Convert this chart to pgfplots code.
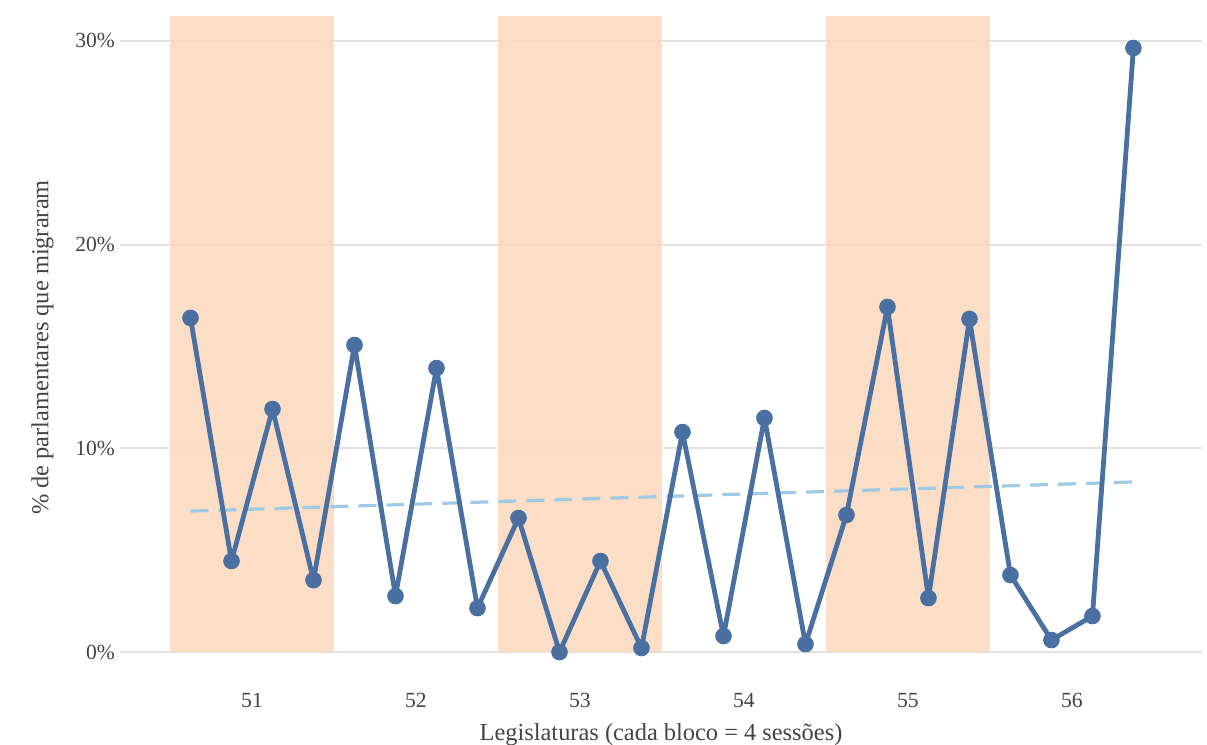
\documentclass[border=0pt]{standalone}
\usepackage{pgfplots}
\pgfplotsset{compat=1.18}
\usepackage{fontspec}
\setmainfont{Liberation Serif}
\definecolor{linecol}{RGB}{74,112,162}
\definecolor{trendcol}{RGB}{158,202,230}
\definecolor{bandcol}{RGB}{252,218,192}
\definecolor{gridcol}{RGB}{226,226,226}
\definecolor{txtcol}{RGB}{68,68,68}
\begin{document}
\begin{tikzpicture}
\useasboundingbox (-60pt,-32.5pt) rectangle (543.5pt,340pt);
\begin{axis}[
  scale only axis,
  width=541pt, height=332.5pt,
  xmin=50.195, xmax=56.793,
  ymin=-1.37, ymax=31.27,
  axis line style={draw=none},
  tick style={draw=none},
  xtick={51,52,53,54,55,56},
  ytick={0,10,20,30},
  yticklabel={\pgfmathprintnumber{\tick}\%},
  /pgf/number format/assume math mode=true,
  ymajorgrids,
  grid style={gridcol, line width=1pt},
  ticklabel style={font=\fontsize{10.8}{12}\selectfont, text=txtcol},
  xticklabel style={yshift=-3pt},
  yticklabel style={xshift=1pt},
  xlabel={Legislaturas (cada bloco = 4 sessões)},
  ylabel={\% de parlamentares que migraram},
  label style={font=\fontsize{12.2}{14}\selectfont, text=txtcol},
  xlabel style={yshift=-1pt},
  ylabel style={yshift=4pt},
  clip=false,
]
\addplot[draw=none, fill=bandcol, fill opacity=0.9] coordinates {(50.5,0) (51.5,0) (51.5,31.2) (50.5,31.2)} -- cycle;
\addplot[draw=none, fill=bandcol, fill opacity=0.9] coordinates {(52.5,0) (53.5,0) (53.5,31.2) (52.5,31.2)} -- cycle;
\addplot[draw=none, fill=bandcol, fill opacity=0.9] coordinates {(54.5,0) (55.5,0) (55.5,31.2) (54.5,31.2)} -- cycle;
\addplot[trendcol, line width=1.6pt, dash pattern=on 9pt off 5pt] coordinates {(50.625,6.92) (56.375,8.35)};
\addplot[linecol, line width=2.4pt, line join=round, mark=*, mark size=3.9pt, mark options={solid, fill=linecol, draw=linecol, line width=0.5pt}] coordinates {
(50.625,16.40) (50.875,4.47) (51.125,11.93) (51.375,3.53)
(51.625,15.07) (51.875,2.75) (52.125,13.94) (52.375,2.16)
(52.625,6.58) (52.875,0.00) (53.125,4.47) (53.375,0.20)
(53.625,10.80) (53.875,0.79) (54.125,11.49) (54.375,0.39)
(54.625,6.73) (54.875,16.94) (55.125,2.65) (55.375,16.35)
(55.625,3.78) (55.875,0.59) (56.125,1.77) (56.375,29.65)
};
\end{axis}
\end{tikzpicture}
\end{document}
